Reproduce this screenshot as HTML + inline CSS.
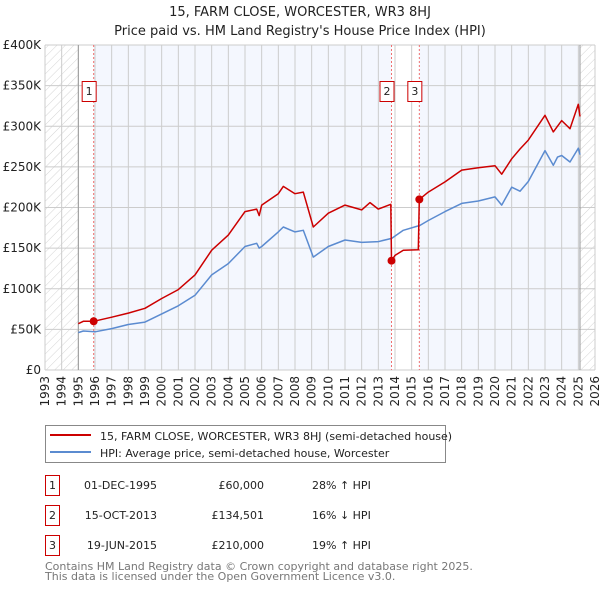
<!DOCTYPE html>
<html><head><meta charset="utf-8"><style>
body{margin:0;background:#fff;font-family:"Liberation Sans","DejaVu Sans",sans-serif;}
svg text{font-family:"DejaVu Sans","Liberation Sans",sans-serif;}
</style></head><body>
<svg id="c" width="600" height="590" xmlns="http://www.w3.org/2000/svg">
<defs><pattern id="hatch" width="6" height="6" patternUnits="userSpaceOnUse" patternTransform="rotate(45)"><line x1="0" y1="0" x2="0" y2="6" stroke="#d4d4d4" stroke-width="1"/></pattern></defs>
<text x="300" y="16" text-anchor="middle" font-size="13" fill="#222">15, FARM CLOSE, WORCESTER, WR3 8HJ</text>
<text x="300" y="35" text-anchor="middle" font-size="13" fill="#222">Price paid vs. HM Land Registry's House Price Index (HPI)</text>
<g id="plot"></g>
<g>
<rect x="45.5" y="425.5" width="400" height="37" fill="#fff" stroke="#888"/>
<line x1="50" y1="435" x2="91" y2="435" stroke="#cc0000" stroke-width="2"/>
<text x="100" y="440" font-size="11" fill="#222">15, FARM CLOSE, WORCESTER, WR3 8HJ (semi-detached house)</text>
<line x1="50" y1="452" x2="91" y2="452" stroke="#5b8bd0" stroke-width="2"/>
<text x="100" y="457" font-size="11" fill="#222">HPI: Average price, semi-detached house, Worcester</text>
</g>
<g id="table" font-size="11" fill="#222"></g>
<text x="45" y="570" font-size="11" fill="#777">Contains HM Land Registry data © Crown copyright and database right 2025.</text>
<text x="45" y="580" font-size="11" fill="#777">This data is licensed under the Open Government Licence v3.0.</text>
</svg>
<script>
const hpiYears=[1995.0,1995.3,1996,1997,1998,1999,2000,2001,2002,2003,2004,2005,2005.7,2005.85,2006,2007,2007.3,2008,2008.5,2009.1,2010,2011,2012,2013,2013.8,2014.5,2015.5,2016,2017,2018,2019,2020,2020.4,2021,2021.5,2022,2023,2023.5,2023.75,2024,2024.5,2025,2025.1];
const hpiValues=[46000,48000,47000,51000,56000,59000,69000,79000,92000,117000,131000,152000,156000,150000,152000,170000,176000,170000,172000,139000,152000,160000,157000,158000,162000,172000,178000,184000,195000,205000,208000,213000,203000,225000,220000,232000,270000,252000,262000,264000,256000,273000,265000];
const redYears=[1995.0,1995.3,1995.92,1997,1998,1999,2000,2001,2002,2003,2004,2005,2005.7,2005.85,2006,2007,2007.3,2008,2008.5,2009.1,2010,2011,2012,2012.5,2013,2013.75,2013.79,2014,2014.5,2015.4,2015.46,2016,2017,2018,2019,2020,2020.4,2021,2021.5,2022,2023,2023.5,2024,2024.5,2025,2025.1];
const redValues=[57000,60000,60000,65000,70000,76000,88000,99000,117000,147500,166000,195000,198000,190000,203000,217000,226000,217000,219000,176000,193000,203000,197000,206000,198000,204000,134501,141000,147500,148000,210000,219000,231500,246000,249000,251500,241000,260000,272000,283000,313500,293000,307000,297000,327000,312000];
const saleYears=[1995.92,2013.79,2015.46];
const saleValues=[60000,134501,210000];
const saleLabels=["1","2","3"];
const saleDates=["01-DEC-1995","15-OCT-2013","19-JUN-2015"];
const salePrices=["£60,000","£134,501","£210,000"];
const saleHpi=["28% ↑ HPI","16% ↓ HPI","19% ↑ HPI"];
const yTicks=[0,50000,100000,150000,200000,250000,300000,350000,400000];
const yTickLabels=["£0","£50K","£100K","£150K","£200K","£250K","£300K","£350K","£400K"];
const xTicks=[1993,1994,1995,1996,1997,1998,1999,2000,2001,2002,2003,2004,2005,2006,2007,2008,2009,2010,2011,2012,2013,2014,2015,2016,2017,2018,2019,2020,2021,2022,2023,2024,2025,2026];

const L=45,R=595,T=45,B=370,X0=1993,X1=2026,Ymax=400000;
const X=v=>L+(v-X0)/(X1-X0)*(R-L);
const Y=v=>B-v/Ymax*(B-T);
const NS="http://www.w3.org/2000/svg";
const plot=document.getElementById('plot');
function mk(tag,attrs,parent){const e=document.createElementNS(NS,tag);for(const k in attrs)e.setAttribute(k,attrs[k]);(parent||plot).appendChild(e);return e;}
let e;
e=mk('rect',{x:L,y:T,width:R-L,height:B-T,fill:'#fff'});


const dataStart=1995.0,dataEnd=2025.1;
e=mk('rect',{x:L,y:T,width:X(dataStart)-L,height:B-T,fill:'url(#hatch)'});


e=mk('rect',{x:X(dataEnd),y:T,width:R-X(dataEnd),height:B-T,fill:'url(#hatch)'});


e=mk('rect',{x:X(saleYears[0]),y:T,width:X(saleYears[1])-X(saleYears[0]),height:B-T,fill:'#f4f7fe'});


e=mk('rect',{x:X(saleYears[2]),y:T,width:X(dataEnd)-X(saleYears[2]),height:B-T,fill:'#f4f7fe'});


yTicks.forEach((v,i)=>{
 e=mk('line',{x1:L,x2:R,y1:Y(v),y2:Y(v),stroke:'#ccc','stroke-width':1});
 
 
 e=mk('text',{x:L-4,y:Y(v)+4,'text-anchor':'end','font-size':12,fill:'#222'});
 e.textContent=yTickLabels[i];
 
 
});
xTicks.forEach(v=>{
 e=mk('line',{x1:X(v),x2:X(v),y1:T,y2:B,stroke:'#ccc','stroke-width':1});
 
 
 e=mk('text',{x:0,y:0,'text-anchor':'end','font-size':12,fill:'#222',transform:`translate(${X(v)+4},${B+6}) rotate(-90)`});
 e.textContent=String(v);
 
 
});
e=mk('line',{x1:X(dataStart),x2:X(dataStart),y1:T,y2:B,stroke:'#999','stroke-width':1});


e=mk('line',{x1:X(dataEnd),x2:X(dataEnd),y1:T,y2:B,stroke:'#999','stroke-width':1});


saleYears.forEach(v=>{
 e=mk('line',{x1:X(v),x2:X(v),y1:T,y2:B,stroke:'#f07070','stroke-width':1,'stroke-dasharray':'2,2'});
 
 
});
const pts=(xs,ys)=>xs.map((x,i)=>X(x).toFixed(1)+','+Y(ys[i]).toFixed(1)).join(' ');
e=mk('polyline',{points:pts(hpiYears,hpiValues),fill:'none',stroke:'#5b8bd0','stroke-width':1.5,'stroke-linejoin':'round'});


e=mk('polyline',{points:pts(redYears,redValues),fill:'none',stroke:'#cc0000','stroke-width':1.5,'stroke-linejoin':'round'});


saleYears.forEach((v,i)=>{
 e=mk('circle',{cx:X(v),cy:Y(saleValues[i]),r:4,fill:'#cc0000'});
 
 
 e=mk('rect',{x:X(v)-11.5,y:81.5,width:14,height:20,fill:'#fff',stroke:'#cc0000'});
 
 
 e=mk('text',{x:X(v)-4.5,y:95,'text-anchor':'middle','font-size':11,fill:'#222'});
 e.textContent=saleLabels[i];
 
 
});
const tb=document.getElementById('table');
saleLabels.forEach((s,i)=>{
 const y=475+i*30;
 e=mk('rect',{x:45.5,y:y+0.5,width:14,height:20,fill:'#fff',stroke:'#cc0000'},tb);
 
 
 e=mk('text',{x:52.5,y:y+14,'text-anchor':'middle'},tb);e.textContent=s;
 
 
 e=mk('text',{x:157,y:y+14,'text-anchor':'end'},tb);e.textContent=saleDates[i];
 
 
 e=mk('text',{x:264,y:y+14,'text-anchor':'end'},tb);e.textContent=salePrices[i];
 
 
 e=mk('text',{x:312,y:y+14},tb);e.textContent=saleHpi[i];
 
 
});
</script>
</body></html>
